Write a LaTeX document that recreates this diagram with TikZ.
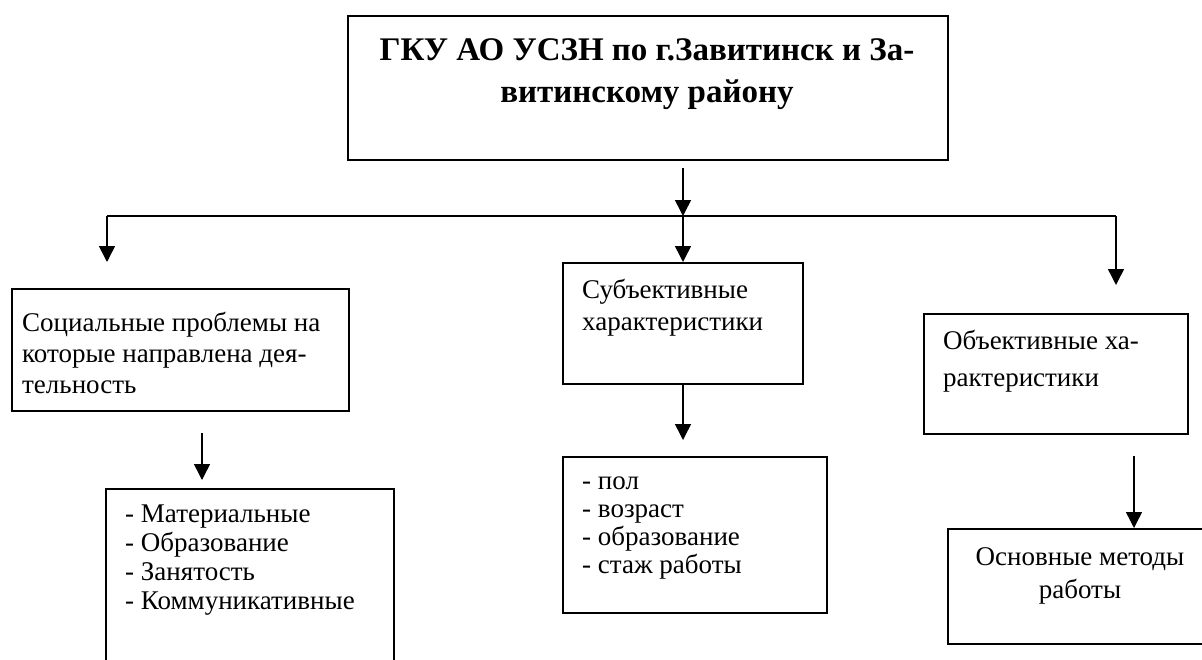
\documentclass[tikz,border=0pt]{standalone}
\usepackage{fontspec}
\setmainfont{Liberation Serif}
\usetikzlibrary{arrows.meta}
\tikzset{
  boxnode/.style={draw, line width=2pt, anchor=north west, inner sep=0pt},
  txt/.style={inner sep=0pt, anchor=base west, font=\fontsize{27}{32}\selectfont},
  ttl/.style={inner sep=0pt, anchor=base, font=\fontsize{33}{38}\selectfont\bfseries},
  arr/.style={-{Triangle[length=16pt,width=16pt]}, line width=1.5pt},
  conn/.style={line width=2pt}
}
\begin{document}
\begin{tikzpicture}[x=1pt,y=-1pt]
\useasboundingbox (0,0) rectangle (1202,659);
\clip (0,0) rectangle (1202,659);
% boxes
\node[boxnode, minimum width=600pt, minimum height=144pt] (top) at (347,15) {};
\node[boxnode, minimum width=337pt, minimum height=122pt] (soc) at (11,288) {};
\node[boxnode, minimum width=240pt, minimum height=121pt] (subj) at (562,262) {};
\node[boxnode, minimum width=264pt, minimum height=120pt] (obj) at (923,313) {};
\node[boxnode, minimum width=288pt, minimum height=260pt] (prob) at (105,488) {};
\node[boxnode, minimum width=264pt, minimum height=156pt] (subl) at (562,456) {};
\node[boxnode, minimum width=290pt, minimum height=115pt] (meth) at (947,528) {};
% texts
\node[ttl] (t1) at (647,60) {ГКУ АО УСЗН по г.Завитинск и За-};
\node[ttl] (t2) at (647,102) {витинскому району};
\node[txt] (s1) at (22,331) {Социальные проблемы на};
\node[txt] (s2) at (22,362) {которые направлена дея-};
\node[txt] (s3) at (22,393) {тельность};
\node[txt] (u1) at (582,298) {Субъективные};
\node[txt] (u2) at (582,330) {характеристики};
\node[txt] (o1) at (943,349) {Объективные ха-};
\node[txt] (o2) at (943,386) {рактеристики};
\node[txt] (p1) at (125,522) {- Материальные};
\node[txt] (p2) at (125,551) {- Образование};
\node[txt] (p3) at (125,580) {- Занятость};
\node[txt] (p4) at (125,609) {- Коммуникативные};
\node[txt] (l1) at (582,489) {- пол};
\node[txt] (l2) at (582,517) {- возраст};
\node[txt] (l3) at (582,545) {- образование};
\node[txt] (l4) at (582,573) {- стаж работы};
\node[txt, anchor=base] (m1) at (1080,565) {Основные методы};
\node[txt, anchor=base] (m2) at (1080,598) {работы};
% connectors
\coordinate (jm) at (683,216);
\coordinate (jl) at (107,216);
\coordinate (jr) at (1116,216);
\coordinate (ps) at (202,433);
\coordinate (os) at (1134,456);
\draw[conn] (jl) -- (jr);
\draw[arr] ([yshift=-7pt]top.south -| jm) -- (jm);
\draw[arr] (jl) -- ([yshift=26pt]soc.north -| jl);
\draw[arr] (jm) -- (subj.north -| jm);
\draw[arr] (jr) -- ([yshift=28pt]obj.north -| jr);
\draw[arr] (ps) -- ([yshift=8pt]prob.north -| ps);
\draw[arr] (subj.south -| jm) -- ([yshift=16pt]subl.north -| jm);
\draw[arr] (os) -- (meth.north -| os);
\end{tikzpicture}
\end{document}
